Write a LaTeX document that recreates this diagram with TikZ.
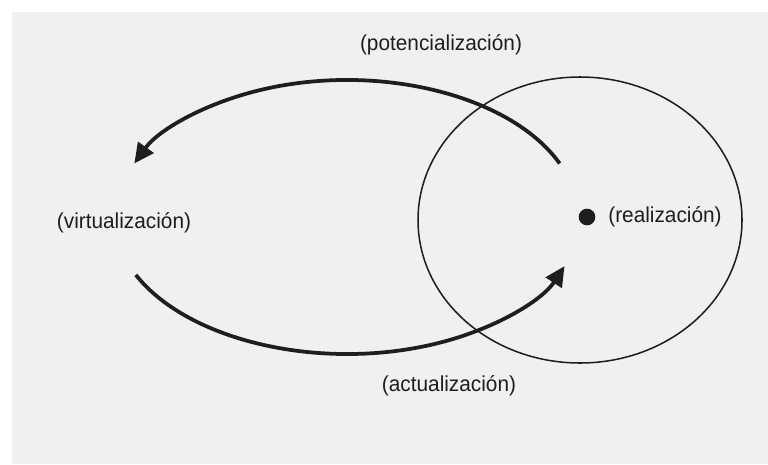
\documentclass[tikz,border=0pt]{standalone}
\usepackage{fontspec}
\setmainfont{Liberation Sans}
\newfontfamily\narrowsans[FakeStretch=0.96]{Liberation Sans}
\usepackage{tikz}
\usetikzlibrary{arrows.meta, calc}
\definecolor{pagegray}{RGB}{240,240,240}
\definecolor{inkgray}{RGB}{30,30,30}

\begin{document}
\begin{tikzpicture}[x=0.03cm, y=0.03cm,
    lbl/.style={inner sep=0pt, font=\narrowsans\fontsize{18.5pt}{21pt}\selectfont, text=inkgray},
    flow/.style={line width=3.2pt, draw=inkgray, -{Triangle[length=17pt, width=16pt]}},
    dotmark/.style={circle, fill=inkgray, inner sep=0pt, minimum size=0.5cm}]
% Page
\useasboundingbox (0,0) rectangle (768,464);
\fill[white] (0,0) rectangle (768,464);
\fill[pagegray] (12,0) rectangle (768,452);

% Circle of the real
\draw[line width=1.3pt, inkgray] (580,244) ellipse[x radius=162, y radius=143];

% Labels
\node[dotmark] (dot) at (587,247) {};
\node[lbl] (real) at (665,247) {(realización)};
\node[lbl] (virt) at (124,241) {(virtualización)};
\node[lbl] (pot) at (441,419) {(potencialización)};
\node[lbl] (act) at (449,78) {(actualización)};

% Arcs
\coordinate (potstart) at ($(347,247)+(23:231 and 137)$);
\coordinate (actstart) at ($(347,247)+(205:233 and 137)$);
\draw[flow] (potstart) arc[start angle=23, end angle=157, x radius=231, y radius=137];
\draw[flow] (actstart) arc[start angle=205, end angle=339, x radius=233, y radius=137];
\end{tikzpicture}
\end{document}
